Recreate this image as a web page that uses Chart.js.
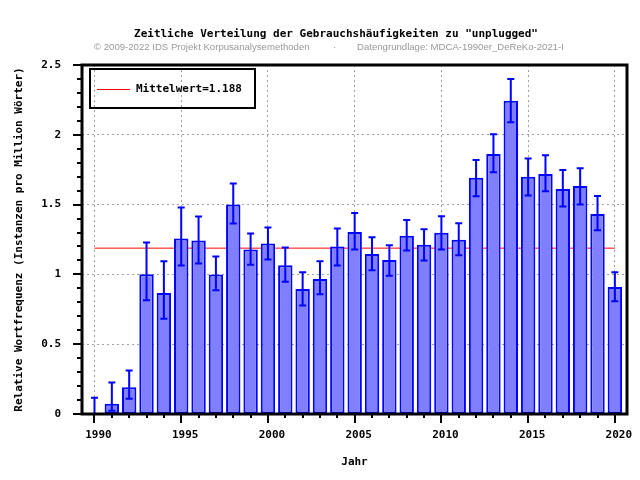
<!DOCTYPE html>
<html>
<head>
<meta charset="utf-8">
<script src="https://cdn.jsdelivr.net/npm/chart.js@4.4.1/dist/chart.umd.min.js"></script>
<style>
  html, body { margin: 0; padding: 0; background: #fff; }
  #wrap { width: 640px; height: 480px; }
</style>
</head>
<body>
<div id="wrap"><canvas id="chart" width="640" height="480"></canvas></div>
<script>
// ── Data ──────────────────────────────────────────────
const years = [1990, 1991, 1992, 1993, 1994, 1995, 1996, 1997, 1998, 1999,
               2000, 2001, 2002, 2003, 2004, 2005, 2006, 2007, 2008, 2009,
               2010, 2011, 2012, 2013, 2014, 2015, 2016, 2017, 2018, 2019, 2020];

const freq = [0, 0.074, 0.192, 1.001, 0.867, 1.257, 1.243, 1.0, 1.501, 1.178,
              1.221, 1.065, 0.896, 0.967, 1.2, 1.303, 1.147, 1.104, 1.276, 1.212,
              1.298, 1.248, 1.693, 1.863, 2.244, 1.70, 1.72, 1.611, 1.633, 1.432, 0.91];

const errLow = [0, 0.024, 0.11, 0.814, 0.682, 1.063, 1.078, 0.886, 1.365, 1.07,
                1.106, 0.948, 0.778, 0.857, 1.063, 1.178, 1.03, 0.991, 1.171, 1.10,
                1.178, 1.137, 1.56, 1.731, 2.09, 1.566, 1.595, 1.487, 1.50, 1.317, 0.807];

const errHigh = [0.117, 0.225, 0.311, 1.228, 1.094, 1.48, 1.415, 1.128, 1.652, 1.293,
                 1.336, 1.193, 1.015, 1.094, 1.329, 1.439, 1.266, 1.209, 1.389, 1.324,
                 1.417, 1.367, 1.82, 2.004, 2.40, 1.83, 1.853, 1.748, 1.76, 1.561, 1.015];

const meanValue = 1.188;
const meanSpan = [1990, 2020];

const titleText = 'Zeitliche Verteilung der Gebrauchshäufigkeiten zu "unplugged"';
const creditLeft = '© 2009-2022 IDS Projekt Korpusanalysemethoden';
const creditRight = 'Datengrundlage: MDCA-1990er_DeReKo-2021-I';
const xTitle = 'Jahr';
const yTitle = 'Relative Wortfrequenz (Instanzen pro Million Wörter)';

const MONO = "'DejaVu Sans Mono', monospace";
const BLUE = '#0000ff';
const GRID = '#a0a0a0';

const isMajorY = v => Math.abs(v * 2 - Math.round(v * 2)) < 1e-6;
const isMajorX = v => Math.round(v) % 5 === 0;

// ── Plugins ───────────────────────────────────────────
const errorBars = {
  id: 'errorBars',
  afterDatasetsDraw(chart) {
    const { ctx, scales: { x, y } } = chart;
    ctx.save();
    ctx.strokeStyle = BLUE;
    ctx.lineWidth = 2;
    years.forEach((yr, i) => {
      const px = x.getPixelForValue(yr);
      const lo = y.getPixelForValue(errLow[i]);
      const hi = y.getPixelForValue(errHigh[i]);
      ctx.beginPath();
      ctx.moveTo(px, lo); ctx.lineTo(px, hi);
      ctx.moveTo(px - 3.5, lo); ctx.lineTo(px + 3.5, lo);
      ctx.moveTo(px - 3.5, hi); ctx.lineTo(px + 3.5, hi);
      ctx.stroke();
    });
    ctx.restore();
  }
};

const frameAndTicks = {
  id: 'frameAndTicks',
  afterDatasetsDraw(chart) {
    const { ctx, chartArea: a, scales: { x, y } } = chart;
    ctx.save();
    ctx.strokeStyle = '#000';
    ctx.lineWidth = 2;
    ctx.beginPath();
    y.ticks.forEach(t => {
      const py = Math.round(y.getPixelForValue(t.value));
      ctx.moveTo(a.left, py);
      ctx.lineTo(a.left - (isMajorY(t.value) ? 9 : 5), py);
    });
    x.ticks.forEach(t => {
      const px = Math.round(x.getPixelForValue(t.value));
      ctx.moveTo(px, a.bottom);
      ctx.lineTo(px, a.bottom + (isMajorX(t.value) ? 9 : 4));
    });
    ctx.stroke();
    ctx.lineWidth = 3;
    ctx.strokeRect(a.left, a.top, a.right - a.left, a.bottom - a.top);
    ctx.restore();
  }
};

const legendBox = {
  id: 'legendBox',
  afterDraw(chart) {
    const { ctx, chartArea: a } = chart;
    const bx = a.left + 8, by = a.top + 4;
    ctx.save();
    ctx.strokeStyle = '#000';
    ctx.lineWidth = 2;
    ctx.strokeRect(bx, by, 165, 39);
    ctx.strokeStyle = '#ff0000';
    ctx.lineWidth = 1.2;
    ctx.beginPath();
    ctx.moveTo(bx + 7, by + 20.5);
    ctx.lineTo(bx + 40, by + 20.5);
    ctx.stroke();
    ctx.fillStyle = '#000';
    ctx.font = 'bold 11px ' + MONO;
    ctx.textBaseline = 'middle';
    ctx.fillText(chart.data.datasets[1].label, bx + 46, by + 20);
    ctx.restore();
  }
};

const headings = {
  id: 'headings',
  afterDraw(chart) {
    const { ctx } = chart;
    ctx.save();
    ctx.fillStyle = '#000';
    ctx.font = 'bold 11px ' + MONO;
    ctx.textAlign = 'center';
    ctx.textBaseline = 'alphabetic';
    ctx.fillText(titleText, 336, 37);
    ctx.fillStyle = '#999999';
    ctx.font = "9.6px 'Liberation Sans', Arial, sans-serif";
    ctx.textAlign = 'left';
    ctx.fillText(creditLeft, 94, 50);
    ctx.fillText('·', 333, 50);
    ctx.fillText(creditRight, 357, 50);
    ctx.restore();
  }
};

// ── Chart ─────────────────────────────────────────────
new Chart(document.getElementById('chart'), {
  type: 'bar',
  data: {
    datasets: [
      {
        type: 'bar',
        label: 'Frequenz',
        data: years.map((yr, i) => ({ x: yr, y: freq[i] })),
        backgroundColor: '#8080ff',
        borderColor: BLUE,
        borderWidth: 2,
        borderSkipped: false,
        barPercentage: 0.83,
        categoryPercentage: 1,
        order: 1,
      },
      {
        type: 'line',
        label: 'Mittelwert=' + meanValue,
        data: meanSpan.map(yr => ({ x: yr, y: meanValue })),
        borderColor: '#ff0000',
        borderWidth: 1,
        pointRadius: 0,
        fill: false,
        order: 2,
      },
    ],
  },
  options: {
    responsive: false,
    animation: false,
    layout: { padding: { top: 65, right: 13, left: 0, bottom: 0 } },
    plugins: {
      legend: { display: false },
      title: { display: false },
      tooltip: { enabled: false },
    },
    scales: {
      x: {
        type: 'linear',
        offset: false,
        min: 1989.28,
        max: 2020.7,
        afterFit: s => { s.height = 66; s.paddingLeft = 0; s.paddingRight = 0; },
        border: { display: false, dash: [2, 3] },
        grid: {
          offset: false,
          drawTicks: false,
          color: c => (c.tick && isMajorX(c.tick.value)) ? GRID : 'rgba(0,0,0,0)',
        },
        ticks: {
          stepSize: 1,
          includeBounds: false,
          autoSkip: false,
          maxRotation: 0,
          padding: 15,
          labelOffset: 4,
          color: '#000',
          font: { family: MONO, size: 11, weight: 'bold' },
          callback: v => isMajorX(v) ? String(Math.round(v)) : '',
        },
        title: {
          display: true,
          text: xTitle,
          color: '#000',
          font: { family: MONO, size: 11, weight: 'bold' },
          padding: { bottom: 11, top: 0 },
        },
      },
      y: {
        min: 0,
        max: 2.5,
        afterFit: s => { s.width = 82; s.paddingTop = 0; s.paddingBottom = 0; },
        border: { display: false, dash: [2, 3] },
        grid: {
          drawTicks: false,
          color: c => (c.tick && isMajorY(c.tick.value) && c.tick.value > 0 && c.tick.value < 2.5) ? GRID : 'rgba(0,0,0,0)',
        },
        ticks: {
          stepSize: 0.1,
          autoSkip: false,
          padding: 21,
          color: '#000',
          font: { family: MONO, size: 11, weight: 'bold' },
          callback: v => isMajorY(v) ? String(Math.round(v * 10) / 10) : '',
        },
        title: {
          display: true,
          text: yTitle,
          color: '#000',
          font: { family: MONO, size: 11, weight: 'bold' },
          padding: { top: 13, bottom: 0 },
        },
      },
    },
  },
  plugins: [errorBars, frameAndTicks, legendBox, headings],
});
</script>
</body>
</html>
